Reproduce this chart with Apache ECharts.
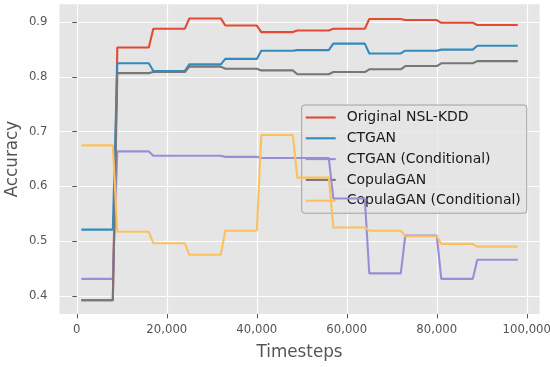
<!DOCTYPE html>
<html><head><meta charset="utf-8">
<script src="https://cdn.jsdelivr.net/npm/echarts@6/dist/echarts.min.js"></script>
<style>html,body{margin:0;padding:0;background:#fff}#c{width:550px;height:367px}</style>
</head><body><div id="c"></div>
<script>
// Evaluation plateaus (timesteps)
const plateauStart = [1000, 9000, 17000, 25000, 33000, 41000, 49000, 57000, 65000, 73000, 81000, 89000];
const plateauEnd   = [8000, 16000, 24000, 32000, 40000, 48000, 56000, 64000, 72000, 80000, 88000, 98000];

const seriesNames = ['Original NSL-KDD', 'CTGAN', 'CTGAN (Conditional)', 'CopulaGAN', 'CopulaGAN (Conditional)'];
const originalNSL   = [0.392, 0.854, 0.888, 0.907, 0.894, 0.882, 0.885, 0.888, 0.906, 0.904, 0.899, 0.895];
const ctgan         = [0.521, 0.825, 0.811, 0.823, 0.833, 0.848, 0.849, 0.861, 0.843, 0.848, 0.850, 0.857];
const ctganCond     = [0.431, 0.664, 0.656, 0.656, 0.654, 0.652, 0.652, 0.578, 0.441, 0.510, 0.431, 0.466];
const copulagan     = [0.392, 0.807, 0.809, 0.819, 0.815, 0.812, 0.805, 0.809, 0.814, 0.820, 0.825, 0.829];
const copulaganCond = [0.675, 0.517, 0.496, 0.475, 0.519, 0.694, 0.616, 0.525, 0.519, 0.509, 0.495, 0.490];

const xTicks = [0, 20000, 40000, 60000, 80000, 100000];
const yTicks = [0.4, 0.5, 0.6, 0.7, 0.8, 0.9];

const colors = ['#E24A33', '#348ABD', '#988ED5', '#777777', '#FBC15E'];
const allValues = [originalNSL, ctgan, ctganCond, copulagan, copulaganCond];

function steps(vals) {
  const d = [];
  vals.forEach((v, i) => { d.push([plateauStart[i], v]); d.push([plateauEnd[i], v]); });
  return d;
}

const FONT = 'DejaVu Sans';
const chart = echarts.init(document.getElementById('c'), null, {renderer: 'canvas'});
chart.setOption({
  animation: false,
  textStyle: {fontFamily: FONT},
  grid: {left: 59.5, right: 10.4, top: 4.2, bottom: 53.1, show: true, backgroundColor: '#E5E5E5', borderWidth: 0,
    outerBoundsMode: 'none', containLabel: false},
  xAxis: {
    type: 'value', min: -3850, max: 102850,
    name: 'Timesteps', nameLocation: 'middle', nameGap: 30, nameMoveOverlap: false,
    nameTextStyle: {fontFamily: FONT, fontSize: 16.8, color: '#555555'},
    axisLine: {show: false},
    axisTick: {show: true, length: 4.5, lineStyle: {color: '#555555', width: 1}, customValues: xTicks},
    axisLabel: {customValues: xTicks, margin: 10, fontFamily: FONT, fontSize: 11.7, color: '#555555',
      formatter: v => Math.round(v).toString().replace(/\B(?=(\d{3})+(?!\d))/g, ',')},
    splitLine: {show: true, lineStyle: {color: '#FFFFFF', width: 1.2}}
  },
  yAxis: {
    type: 'value', min: 0.367, max: 0.933,
    name: 'Accuracy', nameLocation: 'middle', nameGap: 38, nameMoveOverlap: false,
    nameTextStyle: {fontFamily: FONT, fontSize: 16.8, color: '#555555'},
    axisLine: {show: false},
    axisTick: {show: true, length: 4.5, lineStyle: {color: '#555555', width: 1}, customValues: yTicks},
    axisLabel: {customValues: yTicks, margin: 12, fontFamily: FONT, fontSize: 11.7, color: '#555555',
      formatter: v => v.toFixed(1)},
    splitLine: {show: true, lineStyle: {color: '#FFFFFF', width: 1.2}}
  },
  legend: {
    orient: 'vertical', left: 301.7, top: 105,
    padding: [5.5, 6, 5.5, 4],
    icon: 'path://M0,0L30,0L30,2.1L0,2.1Z',
    itemWidth: 30, itemHeight: 2.1, itemGap: 6.8,
    backgroundColor: 'rgba(229,229,229,0.8)', borderColor: '#a0a0a0', borderWidth: 1, borderRadius: 3,
    textStyle: {fontFamily: FONT, fontSize: 14, color: '#1a1a1a', lineHeight: 14, padding: [0, 0, 0, 6]},
    data: seriesNames
  },
  series: seriesNames.map((n, i) => ({
    name: n, type: 'line', symbol: 'none', data: steps(allValues[i]),
    lineStyle: {color: colors[i], width: 2.1}, itemStyle: {color: colors[i]},
    z: 2 + i
  }))
});
</script></body></html>
